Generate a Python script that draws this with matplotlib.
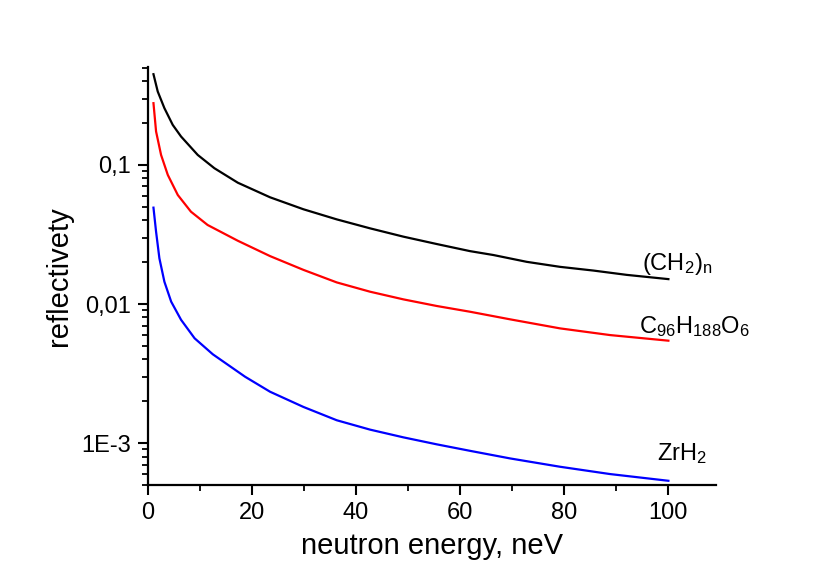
import matplotlib
matplotlib.use("Agg")
import matplotlib.pyplot as plt
from matplotlib.ticker import FixedLocator, FixedFormatter, LogLocator, NullFormatter, MultipleLocator

plt.rcParams['font.family'] = ['Liberation Sans', 'DejaVu Sans']
plt.rcParams['mathtext.fontset'] = 'custom'
plt.rcParams['mathtext.rm'] = 'Liberation Sans'
plt.rcParams['mathtext.it'] = 'Liberation Sans'

# data
energy_ch2 = [1.1, 1.92, 3.2, 4.8, 6.4, 9.6, 12.8, 17.3, 23.5, 29.9, 36.3, 42.7,
              49.1, 55.5, 61.9, 66.4, 72.8, 79.2, 85.6, 92, 100]
refl_ch2 = [0.449, 0.337, 0.256, 0.194, 0.160, 0.118, 0.0947, 0.0745, 0.0585, 0.048,
            0.0406, 0.035, 0.0305, 0.027, 0.024, 0.0225, 0.0201, 0.0185, 0.0174, 0.0162, 0.0151]

energy_c96 = [1.1, 1.6, 2.56, 3.85, 5.77, 8.3, 11.5, 17.3, 23.5, 29.9, 36.3, 42.7,
              49.1, 55.5, 61.9, 69.6, 79.2, 88.8, 100]
refl_c96 = [0.278, 0.174, 0.118, 0.0848, 0.0608, 0.0461, 0.0370, 0.0285, 0.0221, 0.0176,
            0.0143, 0.01226, 0.0108, 0.00968, 0.0088, 0.00776, 0.00668, 0.00598, 0.00545]

energy_zrh2 = [1.1, 1.6, 2.24, 3.2, 4.5, 6.4, 9.0, 12.5, 18.7, 23.5, 29.9, 36.3, 42.7,
               49.1, 55.5, 61.9, 69.6, 79.2, 88.8, 100]
refl_zrh2 = [0.0493, 0.0331, 0.0213, 0.01446, 0.0104, 0.0077, 0.00567, 0.00435, 0.0030,
             0.00234, 0.00182, 0.00146, 0.00125, 0.0011, 0.00098, 0.00088, 0.000776,
             0.000676, 0.000599, 0.000536]

ytick_vals = [1e-3, 1e-2, 1e-1]
ytick_labels = ["1E-3", "0,01", "0,1"]

fig = plt.figure(figsize=(8.3, 5.82), dpi=100)
ax = fig.add_axes([0.178, 0.1667, 0.685, 0.718])

ax.plot(energy_ch2, refl_ch2, color='black', lw=1.6)
ax.plot(energy_c96, refl_c96, color='#ff0000', lw=1.6)
ax.plot(energy_zrh2, refl_zrh2, color='#0000ff', lw=1.6)

ax.set_yscale('log')
ax.set_xlim(0, 109.2)
ax.set_ylim(5e-4, 0.505)

ax.yaxis.set_major_locator(FixedLocator(ytick_vals))
ax.yaxis.set_major_formatter(FixedFormatter(ytick_labels))
ax.yaxis.set_minor_locator(LogLocator(base=10, subs=range(2, 10), numticks=20))
ax.yaxis.set_minor_formatter(NullFormatter())
ax.xaxis.set_major_locator(MultipleLocator(20))
ax.xaxis.set_minor_locator(MultipleLocator(10))

for s in ['top', 'right']:
    ax.spines[s].set_visible(False)
for s in ['left', 'bottom']:
    ax.spines[s].set_linewidth(1.6)

ax.tick_params(which='major', direction='out', length=7, width=1.5, labelsize=17, pad=5)
ax.tick_params(which='minor', direction='out', length=4, width=1.3)

ax.set_xlabel("neutron energy, neV", fontsize=21, labelpad=6)
ax.set_ylabel("reflectivety", fontsize=21, labelpad=6)

ax.text(95.0, 0.01758, r"(CH$_2$)$_\mathregular{n}$", fontsize=17, ha='left', va='baseline')
ax.text(94.4, 0.00618, r"C$_{96}$H$_{188}$O$_6$", fontsize=17, ha='left', va='baseline')
ax.text(97.9, 0.000755, r"ZrH$_2$", fontsize=17, ha='left', va='baseline')

fig.savefig("out.png", dpi=100)
